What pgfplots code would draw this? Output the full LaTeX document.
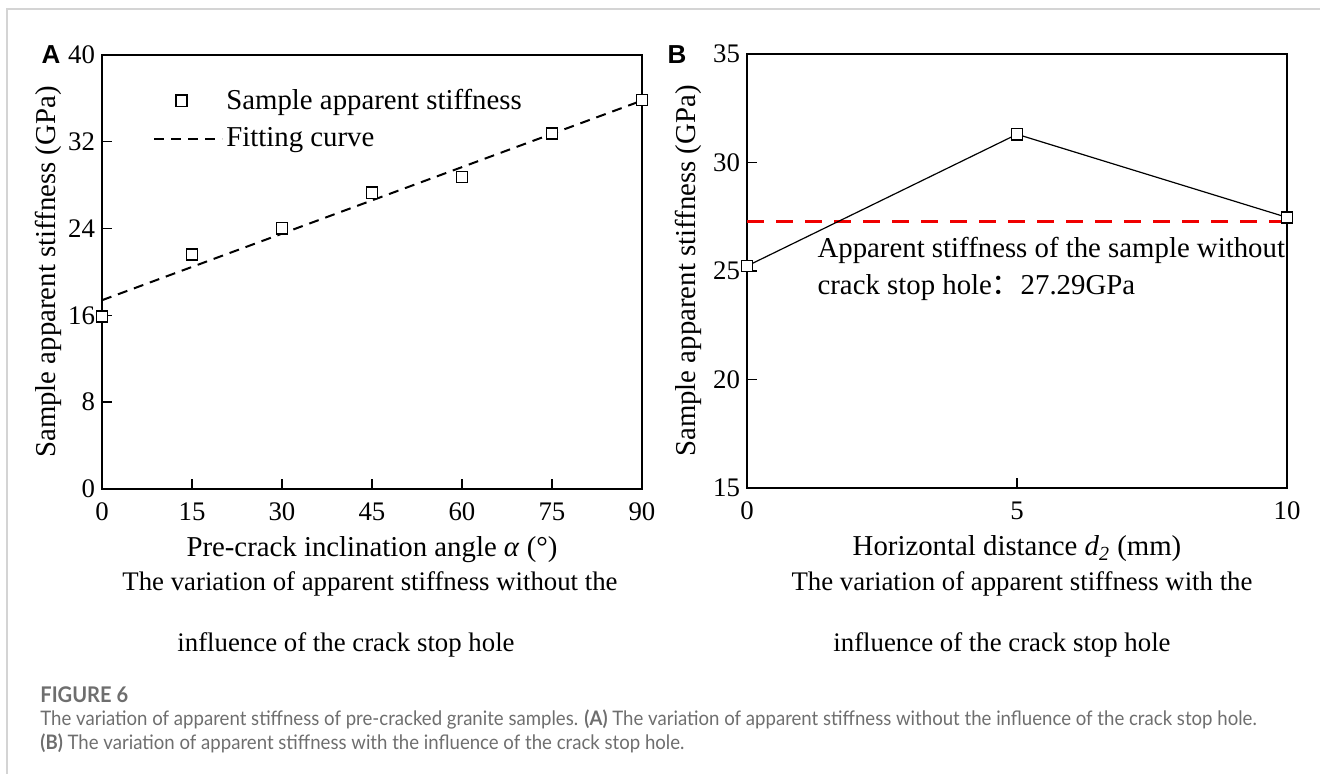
\documentclass[border=0pt]{standalone}
\usepackage{pgfplots}
\pgfplotsset{compat=1.18}
\usepackage{fontspec}
\setmainfont{Liberation Serif}
\newfontfamily\capfont[FakeStretch=0.93]{Lato}
\newfontfamily\labfont{Liberation Sans}
\newfontfamily\cjk{Noto Sans CJK SC}
\definecolor{capgray}{RGB}{110,110,110}
\definecolor{bordergray}{RGB}{212,212,212}
\definecolor{myred}{RGB}{240,0,0}
\newcommand{\fs}{\fontsize{13.4}{16}\selectfont}
\newcommand{\fl}{\fontsize{14.4}{17}\selectfont}

\begin{document}
\begin{tikzpicture}
\useasboundingbox (0,0) rectangle (660pt,387pt);
\draw[bordergray, line width=0.8pt] (3.5pt,0pt) -- (3.5pt,382.5pt) -- (660pt,382.5pt);

\pgfplotsset{
  mystyle/.style={
    scale only axis, width=270pt, height=217pt,
    axis line style={line width=0.7pt, black},
    tick align=inside, xtick pos=bottom, ytick pos=left,
    major tick length=5pt, every tick/.style={line width=0.7pt, black},
    tick label style={font=\fs},
    /pgf/number format/assume math mode=true,
    xticklabel style={yshift=-3.5pt},
    every axis x label/.style={at={(rel axis cs:0.5,-0.1406)}, anchor=center, font=\fl},
    every axis y label/.style={at={(rel axis cs:-0.1,0.5)}, anchor=center, rotate=90, font=\fl},
    clip=false,
  }
}

\begin{axis}[mystyle, at={(51pt,142.5pt)}, anchor=south west,
  xmin=0, xmax=90, ymin=0, ymax=40,
  xtick={0,15,30,45,60,75,90}, ytick={0,8,16,24,32,40},
  xlabel={Pre-crack inclination angle \textit{α} (°)},
  ylabel={Sample apparent stiffness (GPa)},
  reverse legend,
  legend cell align=left,
  legend style={draw=none, fill=none, at={(rel axis cs:0.0944,0.922)}, anchor=north west,
    font=\fl, inner sep=0pt, row sep=7.5pt, column sep=1.5pt, nodes={inner sep=0pt}}]
\addplot[black, line width=1pt, dash pattern=on 5pt off 3.5pt,
  legend image code/.code={\draw (0pt,0pt) -- (34pt,0pt);}]
  coordinates {(0,17.4) (90,35.8)};
\addlegendentry{Fitting curve}
\addplot[only marks, mark=square*, mark size=2.8pt,
  mark options={fill=white, draw=black, line width=0.8pt, solid},
  legend image code/.code={\path[draw=none,fill=none] (0pt,-4pt) rectangle (34pt,4pt); \draw plot coordinates {(13.5pt,0pt)};}]
  coordinates {(0,15.9) (15,21.63) (30,24.04) (45,27.29) (60,28.75) (75,32.78) (90,35.85)};
\addlegendentry{Sample apparent stiffness}
\end{axis}

\begin{axis}[mystyle, at={(373.5pt,143pt)}, anchor=south west,
  xmin=0, xmax=10, ymin=15, ymax=35,
  xtick={0,5,10}, ytick={15,20,25,30,35},
  xlabel={Horizontal distance \textit{d}\textsubscript{\textit{2}} (mm)},
  ylabel={Sample apparent stiffness (GPa)},
  ylabel style={at={(rel axis cs:-0.109,0.5)}}]
\addplot[myred, line width=1.6pt, dash pattern=on 8.5pt off 6pt]
  coordinates {(0,27.29) (10,27.29)};
\addplot[black, line width=0.6pt, mark=square*, mark size=2.8pt,
  mark options={fill=white, draw=black, line width=0.8pt, solid}]
  coordinates {(0,25.23) (5,31.3) (10,27.47)};
\node[anchor=west, font=\fl, inner sep=0pt] at (axis cs:1.3,25.95) {Apparent stiffness of the sample without};
\node[anchor=west, font=\fl, inner sep=0pt] at (axis cs:1.3,24.24) {crack stop hole{\cjk ：}27.29GPa};
\end{axis}

\node[font=\labfont\bfseries\fontsize{13}{15}\selectfont, inner sep=0pt] at (25.5pt,359.5pt) {A};
\node[font=\labfont\bfseries\fontsize{13}{15}\selectfont, inner sep=0pt] at (338.5pt,359.5pt) {B};

\node[font=\fs] at (185pt,95pt) {The variation of apparent stiffness without the};
\node[font=\fs] at (173pt,64.5pt) {influence of the crack stop hole};
\node[font=\fs] at (511pt,95pt) {The variation of apparent stiffness with the};
\node[font=\fs] at (501pt,64.5pt) {influence of the crack stop hole};

\node[anchor=base west, inner sep=0pt, text=capgray, font=\capfont\bfseries\fontsize{10.8}{12}\selectfont] at (20pt,35.5pt) {FIGURE 6};
\node[anchor=base west, inner sep=0pt, text=capgray, font=\capfont\fontsize{10}{12}\selectfont] at (20pt,24pt) {The variation of apparent stiffness of pre-cracked granite samples. \textbf{(A)} The variation of apparent stiffness without the influence of the crack stop hole.};
\node[anchor=base west, inner sep=0pt, text=capgray, font=\capfont\fontsize{10}{12}\selectfont] at (20pt,12pt) {\textbf{(B)} The variation of apparent stiffness with the influence of the crack stop hole.};
\end{tikzpicture}
\end{document}
